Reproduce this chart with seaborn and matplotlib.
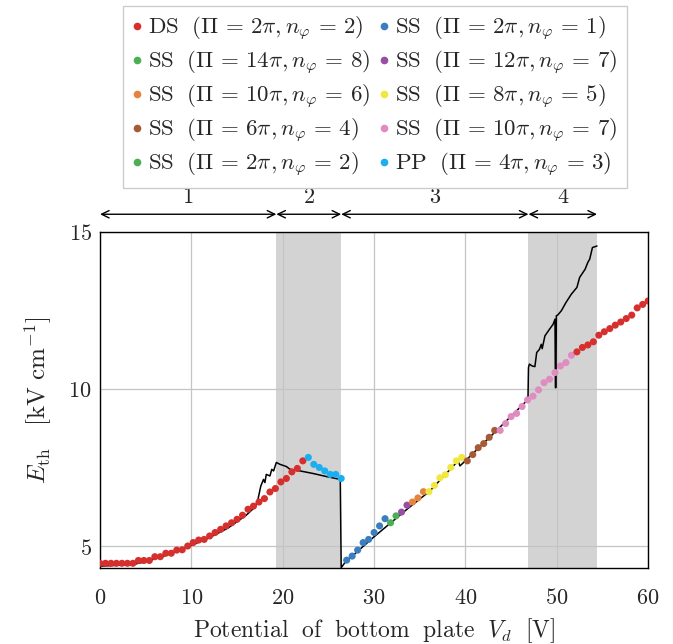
import numpy as np
import pandas as pd
import matplotlib
matplotlib.use("Agg")
import matplotlib.pyplot as plt
from matplotlib.lines import Line2D
import seaborn as sns

# ─── DATA ─────────────────────────────────────────────────────────────────────
group_names = [
    r"$\mathrm{DS}\ \ (\Pi\, =\, 2\pi, n_\varphi\, =\, 2)$",
    r"$\mathrm{SS}\ \ (\Pi\, =\, 14\pi, n_\varphi\, =\, 8)$",
    r"$\mathrm{SS}\ \ (\Pi\, =\, 10\pi, n_\varphi\, =\, 6)$",
    r"$\mathrm{SS}\ \ (\Pi\, =\, 6\pi, n_\varphi\, =\, 4)$",
    r"$\mathrm{SS}\ \ (\Pi\, =\, 2\pi, n_\varphi\, =\, 2)$",
    r"$\mathrm{SS}\ \ (\Pi\, =\, 2\pi, n_\varphi\, =\, 1)$",
    r"$\mathrm{SS}\ \ (\Pi\, =\, 12\pi, n_\varphi\, =\, 7)$",
    r"$\mathrm{SS}\ \ (\Pi\, =\, 8\pi, n_\varphi\, =\, 5)$",
    r"$\mathrm{SS}\ \ (\Pi\, =\, 10\pi, n_\varphi\, =\, 7)$",
    r"$\mathrm{PP}\ \ (\Pi\, =\, 4\pi, n_\varphi\, =\, 3)$",
]
group_colors = ["#D6302E", "#4DAF55", "#E5843C", "#A65A36", "#4DAF55",
                "#3A7EC0", "#984EA3", "#F0E83C", "#E08CC0", "#1CAFEF"]

# DS branch, low voltages
ds_low_v = [0.0, 0.6, 1.2, 1.8, 2.4, 3.0, 3.6, 4.2, 4.8, 5.4, 6.0, 6.6, 7.2, 7.8,
            8.4, 9.0, 9.6, 10.2, 10.8, 11.4, 12.0, 12.6, 13.2, 13.8, 14.4, 15.0,
            15.6, 16.2, 16.8, 17.4, 18.0, 18.6, 19.2, 19.8, 20.4, 21.0, 21.6, 22.2]
ds_low_e = [4.45, 4.45, 4.45, 4.45, 4.45, 4.45, 4.45, 4.54, 4.54, 4.54, 4.66, 4.66,
            4.77, 4.77, 4.87, 4.88, 5.00, 5.11, 5.19, 5.21, 5.32, 5.43, 5.53, 5.64,
            5.74, 5.85, 5.98, 6.17, 6.27, 6.40, 6.51, 6.72, 6.83, 7.04, 7.15, 7.36,
            7.47, 7.71]
pp_v = [22.8, 23.4, 24.0, 24.6, 25.2, 25.8, 26.4]
pp_e = [7.82, 7.60, 7.50, 7.39, 7.28, 7.28, 7.15]
ss1_v = [27.0, 27.6, 28.2, 28.8, 29.4, 30.0, 30.6, 31.2]
ss1_e = [4.55, 4.68, 4.87, 5.11, 5.21, 5.43, 5.64, 5.87]
ss2_v = [31.8, 32.4]
ss2_e = [5.74, 5.96]
ss7_v = [33.0, 33.6]
ss7_e = [6.08, 6.30]
ss6_v = [34.2, 34.8, 35.4]
ss6_e = [6.40, 6.53, 6.73]
ss5_v = [36.0, 36.6, 37.2, 37.8, 38.4, 39.0, 39.6]
ss5_e = [6.73, 6.93, 7.17, 7.27, 7.50, 7.71, 7.82]
ss4_v = [40.2, 40.8, 41.4, 42.0, 42.6, 43.2]
ss4_e = [7.71, 7.91, 8.13, 8.26, 8.46, 8.68]
ss7b_v = [43.8, 44.4, 45.0, 45.6, 46.2, 46.8, 47.4, 48.0, 48.6, 49.2, 49.8, 50.4,
          51.0, 51.6]
ss7b_e = [8.68, 8.90, 9.12, 9.22, 9.44, 9.65, 9.77, 9.97, 10.20, 10.31, 10.52,
          10.73, 10.84, 11.07]
ds_high_v = [52.2, 52.8, 53.4, 54.0, 54.6, 55.2, 55.8, 56.4, 57.0, 57.6, 58.2,
             58.8, 59.4, 60.0]
ds_high_e = [11.18, 11.32, 11.40, 11.50, 11.71, 11.82, 11.92, 12.03, 12.13, 12.24,
             12.35, 12.58, 12.69, 12.80]

# simulated threshold (black line)
sim_v = [0.0, 1.5, 3.6, 5.0, 7.0, 10.0, 12.0, 14.0, 16.0, 17.0, 17.3, 17.6, 17.9,
         18.05, 18.2, 18.6, 18.8, 19.0, 19.3, 19.7, 20.4, 20.8, 21.9, 23.3, 24.8,
         26.3, 26.4, 26.8, 29.9, 33.6, 36.1, 39.2, 39.4, 39.8, 43.0, 46.7, 46.85,
         46.9, 47.0, 47.3, 47.6, 47.8, 48.1, 48.3, 48.4, 48.7, 49.2, 49.6, 49.8,
         49.85, 49.9, 49.95, 50.1, 50.5, 51.0, 51.6, 52.2, 52.5, 53.1, 53.4, 53.6,
         53.9, 54.4]
sim_e = [4.36, 4.38, 4.41, 4.50, 4.68, 5.02, 5.27, 5.57, 5.98, 6.25, 6.50, 6.91,
         7.12, 7.02, 7.28, 7.23, 7.44, 7.39, 7.66, 7.60, 7.53, 7.44, 7.39, 7.31,
         7.21, 7.12, 4.31, 4.47, 5.27, 6.17, 6.75, 7.71, 7.55, 7.66, 8.56, 9.62,
         9.78, 10.68, 10.79, 10.73, 10.71, 11.16, 11.26, 11.42, 11.28, 11.69, 11.90,
         12.06, 12.22, 10.04, 10.04, 12.33, 12.35, 12.49, 12.75, 13.02, 13.23, 13.55,
         13.81, 14.03, 14.13, 14.50, 14.55]

regions = [(0.0, 19.3), (19.3, 26.4), (26.4, 46.9), (46.9, 54.4)]
region_labels = ["1", "2", "3", "4"]
shaded = [(19.3, 26.4), (46.9, 54.4)]

x_ticks = [0, 10, 20, 30, 40, 50, 60]
y_ticks = [5, 10, 15]

# ─── TABLE ────────────────────────────────────────────────────────────────────
parts = [(ds_low_v, ds_low_e, 0), (pp_v, pp_e, 9), (ss1_v, ss1_e, 5),
         (ss2_v, ss2_e, 4), (ss7_v, ss7_e, 6), (ss6_v, ss6_e, 2),
         (ss5_v, ss5_e, 7), (ss4_v, ss4_e, 3), (ss7b_v, ss7b_e, 8),
         (ds_high_v, ds_high_e, 0)]
df = pd.concat([pd.DataFrame({"V": v, "E": e, "mode": group_names[g]})
                for v, e, g in parts], ignore_index=True)
sim = pd.DataFrame({"V": sim_v, "E": sim_e})
palette = dict(zip(group_names, group_colors))

# ─── PLOT ─────────────────────────────────────────────────────────────────────
sns.set_theme(style="white")
plt.rcParams.update({"mathtext.fontset": "cm", "font.family": ["DejaVu Serif"]})

fig = plt.figure(figsize=(6.73, 6.44), dpi=100)
ax = fig.add_axes([0.1486, 0.118, 0.8145, 0.522])

for a, b in shaded:
    ax.axvspan(a, b, color="#d3d3d3", lw=0, zorder=0.2)
ax.grid(True, color="#c4c4c4", lw=0.9, zorder=0.5)
ax.set_axisbelow(True)

sns.lineplot(data=sim, x="V", y="E", sort=False, estimator=None, color="black",
             lw=1.1, ax=ax, zorder=2)
sns.scatterplot(data=df, x="V", y="E", hue="mode", palette=palette, s=26,
                linewidth=0, legend=False, ax=ax, zorder=3)

ax.set_xlim(0, 60)
ax.set_ylim(4.3, 15)
ax.set_xticks(x_ticks)
ax.set_xticklabels([f"${t}$" for t in x_ticks], fontsize=16)
ax.set_yticks(y_ticks)
ax.set_yticklabels([f"${t}$" for t in y_ticks], fontsize=16)
ax.tick_params(direction="in", length=4, width=0.9, color="#555555", pad=6)
ax.tick_params(axis="x", pad=14)
for sp in ax.spines.values():
    sp.set_color("black")
    sp.set_linewidth(1.0)

ax.set_xlabel(r"$\mathrm{Potential\ \ of\ \ bottom\ \ plate}\ \ V_d\ \ [\mathrm{V}]$",
              fontsize=17, labelpad=5)
ax.set_ylabel(r"$E_\mathrm{th}\ \ \ [\mathrm{kV\,\,cm^{-1}}]$", fontsize=18,
              labelpad=10)

# region arrows above the axes
for (a, b), lab in zip(regions, region_labels):
    ax.annotate("", xy=(a, 15.56), xytext=(b, 15.56), annotation_clip=False,
                arrowprops=dict(arrowstyle="<->,head_length=0.45,head_width=0.22",
                                lw=1.0, color="black", shrinkA=0, shrinkB=0))
    ax.text((a + b) / 2, 16.1, f"${lab}$", ha="center", va="center", fontsize=16,
            clip_on=False)

handles = [Line2D([], [], marker="o", ls="", color=c, markersize=4.5)
           for c in group_colors]
fig.legend(handles, group_names, ncol=2, loc="upper center",
           bbox_to_anchor=(0.557, 0.991), fontsize=16.5, frameon=True,
           fancybox=False, edgecolor="#cccccc", framealpha=1, borderaxespad=0,
           handlelength=0.4, handletextpad=0.3, columnspacing=0.4,
           labelspacing=0.26, borderpad=0.4)

fig.savefig("out.png", dpi=100)
